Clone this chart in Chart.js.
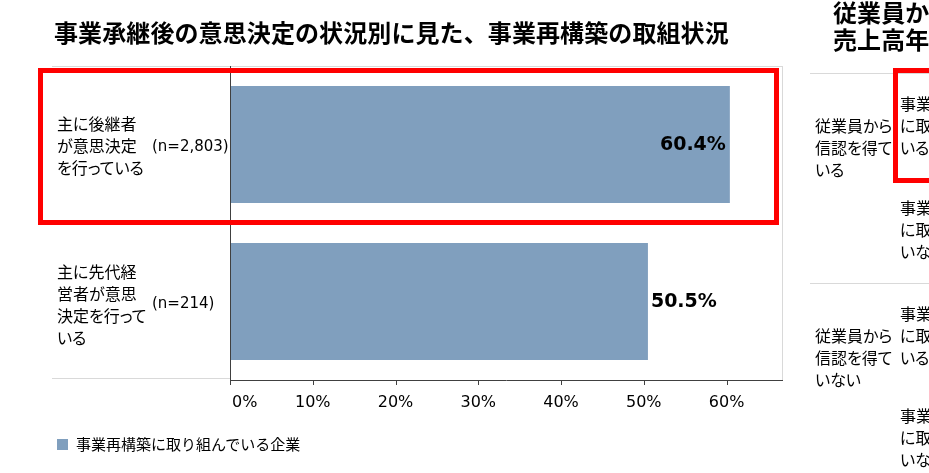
<!DOCTYPE html>
<html lang="ja">
<head>
<meta charset="utf-8">
<script src="https://cdn.jsdelivr.net/npm/chart.js@4/dist/chart.umd.min.js"></script>
<style>
  html, body { margin: 0; padding: 0; background: #fff; }
  body { width: 929px; height: 473px; position: relative; overflow: hidden;
         font-family: "Noto Sans CJK JP", "Noto Sans", sans-serif; color: #000; }
  #chart { position: absolute; left: 0; top: 0; }
  .abs { position: absolute; white-space: nowrap; }
  .title { font-size: 24px; font-weight: bold; line-height: 24px; letter-spacing: 0.1px; }
  .cat { font-size: 16px; line-height: 22px; font-feature-settings: "palt"; }
  .n { font-family: "DejaVu Sans", sans-serif; font-size: 15px; line-height: 18px; }
  .box { position: absolute; border: 5px solid #ff0000; box-sizing: border-box; }
  .hline { position: absolute; height: 1px; background: #d9d9d9; }
  .legend { font-size: 15px; line-height: 18px; }
  .swatch { position: absolute; width: 11px; height: 11px; }
</style>
</head>
<body>
<canvas id="chart" width="929" height="473"></canvas>

<div class="abs title" style="left:54px; top:20px;">事業承継後の意思決定の状況別に見た、事業再構築の取組状況</div>

<!-- category labels -->
<div class="abs cat" style="left:57px; top:112px;">主に後継者<br>が意思決定<br>を行っている</div>
<div class="abs n" style="left:152px; top:137px;">(n=2,803)</div>
<div class="abs cat" style="left:57px; top:260px;">主に先代経<br>営者が意思<br>決定を行って<br>いる</div>
<div class="abs n" style="left:152px; top:294px;">(n=214)</div>

<!-- legend -->
<div class="swatch" id="swatch" style="left:57px; top:439px;"></div>
<div class="abs legend" id="legendText" style="left:76px; top:435px;"></div>

<!-- highlight boxes -->
<div class="box" style="left:38px; top:68px; width:741px; height:157px;"></div>

<!-- neighbouring panel (cut off) -->
<div class="abs title" style="left:833px; top:-2px; line-height:27px;">従業員から見た<br>売上高年</div>
<div class="hline" style="left:810px; top:73px; width:119px;"></div>
<div class="hline" style="left:810px; top:283px; width:119px;"></div>
<div class="abs cat" style="left:815px; top:114px;">従業員から<br>信認を得て<br>いる</div>
<div class="abs cat" style="left:815px; top:324px;">従業員から<br>信認を得て<br>いない</div>
<div class="abs cat" style="left:900px; top:92px;">事業再構築<br>に取り組んで<br>いる</div>
<div class="abs cat" style="left:900px; top:196px;">事業再構築<br>に取り組んで<br>いない</div>
<div class="abs cat" style="left:900px; top:302px;">事業再構築<br>に取り組んで<br>いる</div>
<div class="abs cat" style="left:900px; top:404px;">事業再構築<br>に取り組んで<br>いない</div>
<div class="box" style="left:893px; top:68px; width:60px; height:115px;"></div>

<script>
// data
const categories = ['主に後継者が意思決定を行っている', '主に先代経営者が意思決定を行っている'];
const seriesName = '事業再構築に取り組んでいる企業';
const shares = [60.4, 50.5];
const tickValues = [0, 10, 20, 30, 40, 50, 60];

const BAR_COLOR = '#809fbe';
const AXIS_MAX = 66.7;

document.getElementById('swatch').style.background = BAR_COLOR;
document.getElementById('legendText').innerText = seriesName;

// frame lines, axis, tick labels, value labels
const decorPlugin = {
  id: 'decor',
  beforeDatasetsDraw(chart) {
    const { ctx, chartArea: a } = chart;
    ctx.save();
    ctx.strokeStyle = '#d9d9d9';
    ctx.lineWidth = 1;
    ctx.beginPath();
    ctx.moveTo(52, a.top + 0.5); ctx.lineTo(a.right, a.top + 0.5);
    ctx.moveTo(a.right + 0.5, a.top); ctx.lineTo(a.right + 0.5, a.bottom);
    ctx.moveTo(52, a.bottom - 1.5); ctx.lineTo(a.left, a.bottom - 1.5);
    ctx.stroke();
    ctx.restore();
  },
  afterDraw(chart) {
    const { ctx, chartArea: a } = chart;
    const xs = chart.scales.x;
    ctx.save();
    ctx.strokeStyle = '#404040';
    ctx.lineWidth = 1;
    ctx.beginPath();
    ctx.moveTo(a.left + 0.5, a.top); ctx.lineTo(a.left + 0.5, a.bottom);
    ctx.moveTo(a.left, a.bottom + 0.5); ctx.lineTo(a.right + 1, a.bottom + 0.5);
    tickValues.forEach(v => {
      const px = Math.round(xs.getPixelForValue(v)) + 0.5;
      ctx.moveTo(px, a.bottom); ctx.lineTo(px, a.bottom + 5);
    });
    ctx.stroke();

    // tick labels
    ctx.fillStyle = '#000';
    ctx.font = '16px "DejaVu Sans", sans-serif';
    ctx.textBaseline = 'middle';
    tickValues.forEach((v, i) => {
      const px = xs.getPixelForValue(v);
      if (i === 0) {
        ctx.textAlign = 'left';
        ctx.fillText(v + '%', px + 2, a.bottom + 23);
      } else {
        ctx.textAlign = 'center';
        ctx.fillText(v + '%', px, a.bottom + 23);
      }
    });

    // value labels
    ctx.font = 'bold 19px "DejaVu Sans", sans-serif';
    const meta = chart.getDatasetMeta(0);
    meta.data.forEach((bar, i) => {
      const txt = shares[i].toFixed(1) + '%';
      if (shares[i] >= 60) {
        ctx.textAlign = 'right';
        ctx.fillText(txt, bar.x - 4, bar.y + 1);
      } else {
        ctx.textAlign = 'left';
        ctx.fillText(txt, bar.x + 3, bar.y + 1);
      }
    });
    ctx.restore();
  }
};

new Chart(document.getElementById('chart').getContext('2d'), {
  type: 'bar',
  data: {
    labels: categories,
    datasets: [{
      label: seriesName,
      data: shares,
      backgroundColor: BAR_COLOR,
      borderWidth: 0,
      barPercentage: 0.745,
      categoryPercentage: 1
    }]
  },
  options: {
    indexAxis: 'y',
    responsive: false,
    animation: false,
    devicePixelRatio: 1,
    layout: { padding: { left: 230, top: 66, right: 147, bottom: 93 } },
    plugins: {
      legend: { display: false },
      tooltip: { enabled: false }
    },
    scales: {
      x: {
        display: false,
        min: 0,
        max: AXIS_MAX,
        ticks: { stepSize: 10, includeBounds: false }
      },
      y: { display: false }
    }
  },
  plugins: [decorPlugin]
});
</script>
</body>
</html>
